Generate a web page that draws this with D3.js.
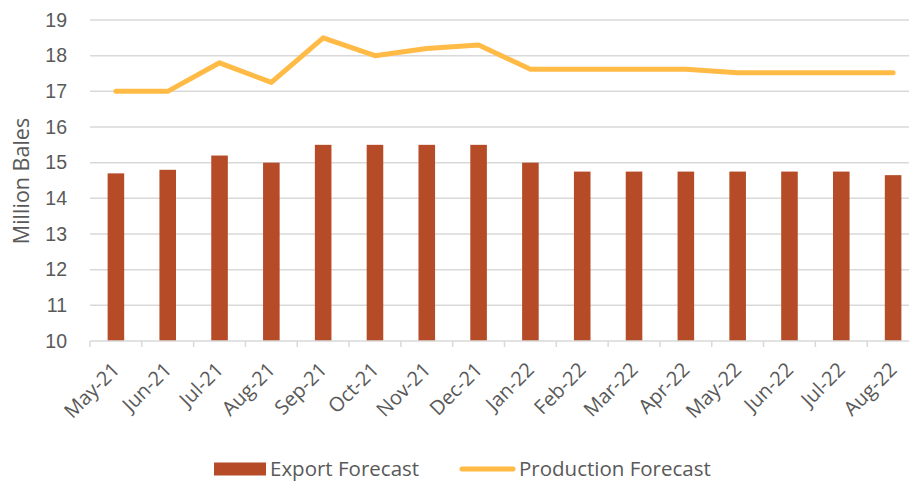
<!DOCTYPE html>
<html>
<head>
<meta charset="utf-8">
<script src="https://cdn.jsdelivr.net/npm/d3@7"></script>
<style>
  body { margin: 0; background: #fff; }
  svg { font-family: "Open Sans", sans-serif; }
</style>
</head>
<body>
<svg width="909" height="481"></svg>
<script>
// months on the x axis
var months = ["May-21", "Jun-21", "Jul-21", "Aug-21", "Sep-21", "Oct-21", "Nov-21", "Dec-21",
              "Jan-22", "Feb-22", "Mar-22", "Apr-22", "May-22", "Jun-22", "Jul-22", "Aug-22"];
// million bales
var exportForecast = [14.7, 14.8, 15.2, 15.0, 15.5, 15.5, 15.5, 15.5,
                      15.0, 14.75, 14.75, 14.75, 14.75, 14.75, 14.75, 14.65];
var productionForecast = [17.0, 17.0, 17.8, 17.25, 18.5, 18.0, 18.2, 18.3,
                          17.62, 17.62, 17.62, 17.62, 17.52, 17.52, 17.52, 17.52];
var yTicks = [10, 11, 12, 13, 14, 15, 16, 17, 18, 19];

var svg = d3.select("svg"),
    margin = { top: 20, left: 90 },
    width = 829,
    height = 321,
    g = svg.append("g").attr("transform", "translate(" + margin.left + "," + margin.top + ")");

var x = d3.scaleBand()
    .domain(months)
    .range([0, width])
    .paddingInner(0.68)
    .paddingOuter(0.34);

var y = d3.scaleLinear()
    .domain([10, 19])
    .range([height, 0]);

var textColor = "#595959";

// gridlines
g.append("g")
    .selectAll("line")
    .data(yTicks.slice(1))
    .enter()
    .append("line")
    .attr("x1", 0)
    .attr("x2", width)
    .attr("y1", function (d) { return y(d); })
    .attr("y2", function (d) { return y(d); })
    .attr("stroke", "#d9d9d9")
    .attr("stroke-width", 1.5);

// y axis labels only
var yAxis = g.append("g")
    .call(d3.axisLeft(y).tickValues(yTicks).tickSize(0).tickPadding(23));
yAxis.select(".domain").remove();
yAxis.selectAll("text")
    .attr("fill", textColor)
    .style("font-size", "19.5px");

// bars
g.selectAll(".bar")
    .data(months)
    .enter()
    .append("rect")
    .attr("class", "bar")
    .attr("x", function (d) { return x(d); })
    .attr("y", function (d, i) { return y(exportForecast[i]); })
    .attr("width", x.bandwidth())
    .attr("height", function (d, i) { return height - y(exportForecast[i]); })
    .attr("fill", "#b64b27");

// x axis: ticks between categories
var step = x.step();
var xAxis = g.append("g")
    .attr("transform", "translate(0," + height + ")");
xAxis.append("line")
    .attr("x1", 0).attr("x2", width)
    .attr("stroke", "#d9d9d9").attr("stroke-width", 1.5);
xAxis.selectAll(".tk")
    .data(d3.range(months.length + 1))
    .enter()
    .append("line")
    .attr("class", "tk")
    .attr("x1", function (d) { return d * step; })
    .attr("x2", function (d) { return d * step; })
    .attr("y1", 0).attr("y2", 6)
    .attr("stroke", "#d9d9d9").attr("stroke-width", 1.5);
xAxis.selectAll(".lbl")
    .data(months)
    .enter()
    .append("text")
    .attr("class", "lbl")
    .attr("transform", function (d) {
        return "translate(" + (x(d) + x.bandwidth() / 2 + 5) + ",30)rotate(-45)";
    })
    .attr("text-anchor", "end")
    .attr("fill", textColor)
    .style("font-size", "20px")
    .text(function (d) { return d; });

// production line
var line = d3.line()
    .x(function (d, i) { return x(months[i]) + x.bandwidth() / 2; })
    .y(function (d) { return y(d); });

g.append("path")
    .datum(productionForecast)
    .attr("d", line)
    .attr("fill", "none")
    .attr("stroke", "#ffbb45")
    .attr("stroke-width", 5)
    .attr("stroke-linecap", "round")
    .attr("stroke-linejoin", "round");

// y axis title
svg.append("text")
    .attr("transform", "translate(29,181)rotate(-90)")
    .attr("text-anchor", "middle")
    .attr("fill", textColor)
    .style("font-size", "21.5px")
    .text("Million Bales");

// legend
var legend = svg.append("g").attr("transform", "translate(0,469)");
legend.append("rect")
    .attr("x", 214).attr("y", -6.5).attr("width", 52).attr("height", 13)
    .attr("fill", "#b64b27");
legend.append("text")
    .attr("x", 270).attr("y", 0).attr("dy", "0.35em")
    .attr("fill", textColor).style("font-size", "20.5px")
    .text("Export Forecast");
legend.append("line")
    .attr("x1", 462).attr("x2", 513)
    .attr("stroke", "#ffbb45").attr("stroke-width", 5).attr("stroke-linecap", "round");
legend.append("text")
    .attr("x", 519).attr("y", 0).attr("dy", "0.35em")
    .attr("fill", textColor).style("font-size", "20.5px")
    .text("Production Forecast");
</script>
</body>
</html>
